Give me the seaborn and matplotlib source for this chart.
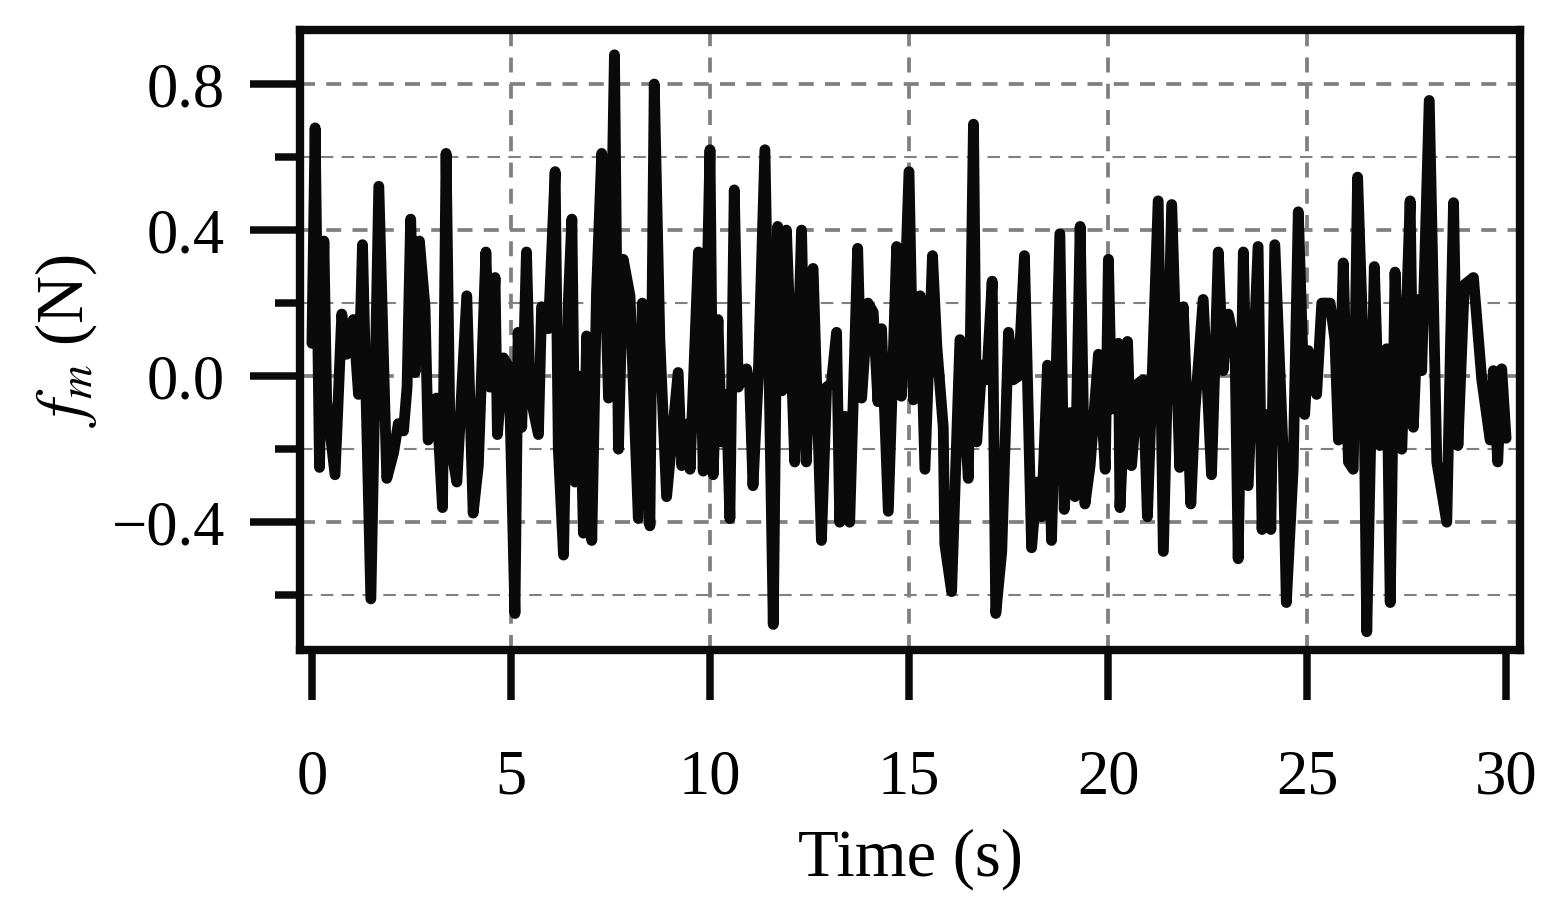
import numpy as np
import pandas as pd
import matplotlib
matplotlib.use("Agg")
import matplotlib.pyplot as plt
from matplotlib.ticker import MultipleLocator
import seaborn as sns

time_s = [
    0.0, 0.08, 0.19, 0.3, 0.37, 0.58, 0.75, 0.87, 1.04, 1.17, 1.27, 1.48, 1.68, 1.88,
    2.05, 2.17, 2.3, 2.39, 2.48, 2.59, 2.7, 2.84, 2.92, 3.13, 3.28, 3.37, 3.47, 3.64,
    3.89, 4.05, 4.18, 4.37, 4.47, 4.6, 4.66, 4.81, 4.95, 5.1, 5.18, 5.27, 5.39, 5.48,
    5.69, 5.77, 5.94, 6.11, 6.19, 6.32, 6.44, 6.53, 6.61, 6.73, 6.82, 6.9, 7.03, 7.15,
    7.28, 7.45, 7.6, 7.7, 7.82, 7.99, 8.2, 8.3, 8.49, 8.6, 8.74, 8.91, 9.2, 9.29,
    9.46, 9.5, 9.71, 9.83, 10.0, 10.08, 10.2, 10.29, 10.41, 10.5, 10.61, 10.71, 10.92,
    11.0, 11.08, 11.21, 11.38, 11.5, 11.59, 11.7, 11.81, 11.92, 12.03, 12.13, 12.3,
    12.42, 12.59, 12.8, 12.93, 13.05, 13.18, 13.26, 13.39, 13.51, 13.71, 13.81, 13.97,
    14.1, 14.22, 14.31, 14.48, 14.69, 14.81, 15.0, 15.11, 15.28, 15.4, 15.59, 15.7,
    15.86, 15.9, 16.07, 16.28, 16.49, 16.62, 16.7, 16.83, 16.95, 17.09, 17.18, 17.33,
    17.5, 17.62, 17.75, 17.9, 18.08, 18.21, 18.33, 18.48, 18.58, 18.79, 18.9, 19.05,
    19.17, 19.3, 19.42, 19.55, 19.76, 19.93, 20.01, 20.09, 20.26, 20.3, 20.49, 20.59,
    20.76, 20.88, 20.99, 21.26, 21.39, 21.6, 21.8, 21.89, 22.08, 22.18, 22.39, 22.6,
    22.77, 22.89, 23.02, 23.19, 23.27, 23.4, 23.52, 23.77, 23.87, 23.98, 24.09, 24.19,
    24.4, 24.48, 24.65, 24.78, 24.94, 25.03, 25.24, 25.37, 25.58, 25.7, 25.79, 25.91,
    26.04, 26.16, 26.27, 26.42, 26.5, 26.69, 26.83, 27.0, 27.09, 27.21, 27.38, 27.59,
    27.67, 27.8, 27.88, 28.07, 28.26, 28.51, 28.68, 28.79, 28.95, 29.18, 29.39, 29.6,
    29.68, 29.79, 29.89, 30.0,
]
force_n = [
    0.09, 0.68, -0.25, 0.37, -0.07, -0.27, 0.17, 0.06, 0.155, -0.05, 0.36, -0.61, 0.52, -0.28,
    -0.21, -0.13, -0.15, -0.03, 0.43, 0.01, 0.37, 0.19, -0.175, -0.06, -0.36, 0.61, -0.18, -0.29,
    0.22, -0.375, -0.245, 0.34, -0.03, 0.27, -0.16, 0.05, 0.025, -0.65, 0.12, -0.14, 0.34, -0.05,
    -0.16, 0.19, 0.13, 0.56, -0.2, -0.49, 0.2, 0.43, -0.29, 0.0, -0.43, 0.11, -0.45, 0.23,
    0.61, -0.06, 0.88, -0.2, 0.32, 0.22, -0.39, 0.2, -0.41, 0.80, 0.10, -0.33, 0.01, -0.245,
    -0.13, -0.255, 0.34, -0.26, 0.62, -0.27, 0.155, -0.18, -0.05, -0.39, 0.51, -0.03, 0.02,
    -0.03, -0.30, -0.01, 0.62, -0.09, -0.68, 0.41, -0.04, 0.40, 0.08, -0.235, 0.40,
    -0.235, 0.295, -0.45, -0.03, -0.02, 0.12, -0.40, -0.11, -0.40, 0.35, -0.06, 0.20,
    0.175, -0.07, 0.13, -0.37, 0.355, -0.055, 0.56, -0.065, 0.22, -0.255, 0.33, 0.08,
    -0.14, -0.46, -0.59, 0.10, -0.28, 0.69, -0.18, 0.03, -0.01, 0.26, -0.65, -0.48,
    0.12, -0.01, 0.0, 0.33, -0.47, -0.29, -0.385, 0.03, -0.45, 0.39, -0.365, -0.10,
    -0.33, 0.41, -0.35, -0.245, 0.06, -0.255, 0.32, -0.09, 0.09, -0.36, 0.095, -0.245,
    -0.02, -0.01, -0.385, 0.48, -0.48, 0.47, -0.25, 0.19, -0.35, -0.10, 0.21, -0.27,
    0.34, 0.015, 0.17, 0.08, -0.50, 0.34, -0.30, 0.355, -0.42, -0.105, -0.42, 0.36,
    -0.21, -0.62, -0.255, 0.45, -0.105, 0.07, -0.05, 0.2, 0.2, 0.10, -0.175, 0.31,
    -0.235, -0.255, 0.545, 0.05, -0.70, 0.30, -0.19, 0.075, -0.62, 0.285, -0.2, 0.48,
    -0.14, 0.21, 0.015, 0.755, -0.235, -0.40, 0.475, -0.19, 0.25, 0.27, -0.01, -0.175,
    0.015, -0.235, 0.02, -0.17,
]
x_ticks = [0, 5, 10, 15, 20, 25, 30]
y_ticks = [-0.4, 0.0, 0.4, 0.8]

df = pd.DataFrame({"time": time_s, "force": force_n})

sns.set_theme(style="ticks")
plt.rcParams["font.family"] = ["Liberation Serif", "DejaVu Serif"]
plt.rcParams["mathtext.fontset"] = "stix"
plt.rcParams["axes.unicode_minus"] = True
plt.rcParams["text.color"] = "black"
plt.rcParams["axes.labelcolor"] = "black"

fig = plt.figure(figsize=(1565 / 300, 914 / 300), dpi=300)
ax = fig.add_axes([300 / 1565, 1 - 650 / 914, 1220 / 1565, 620 / 914])

sns.lineplot(data=df, x="time", y="force", ax=ax, color="#0a0a0a",
             linewidth=2.6, estimator=None, sort=False)

ax.set_xlim(-0.3, 30.35)
ax.set_ylim(-0.75, 0.948)
ax.set_xticks(x_ticks)
ax.set_yticks(y_ticks)
ax.yaxis.set_minor_locator(MultipleLocator(0.2))

ax.grid(which="major", color="#808080", linestyle=(0, (4, 3)), linewidth=0.9)
ax.grid(which="minor", axis="y", color="#808080", linestyle=(0, (6, 4)), linewidth=0.5)
ax.set_axisbelow(True)
# no vertical grid on the outermost ticks
gl = ax.xaxis.get_gridlines()
gl[0].set_visible(False)
gl[-1].set_visible(False)

for sp in ax.spines.values():
    sp.set_linewidth(2.0)
    sp.set_color("#0a0a0a")

ax.tick_params(axis="both", which="major", length=12, width=1.8, color="#0a0a0a",
               labelsize=15, labelcolor="black")
ax.tick_params(axis="x", which="major", pad=12)
ax.tick_params(axis="y", which="major", pad=6)
ax.tick_params(axis="y", which="minor", length=6, width=1.8, color="#0a0a0a")

ax.set_xlabel("Time (s)", fontsize=16, labelpad=5)
ax.set_ylabel(r"$f_m$ (N)", fontsize=16, labelpad=3)

fig.savefig("out.png", dpi=300)
